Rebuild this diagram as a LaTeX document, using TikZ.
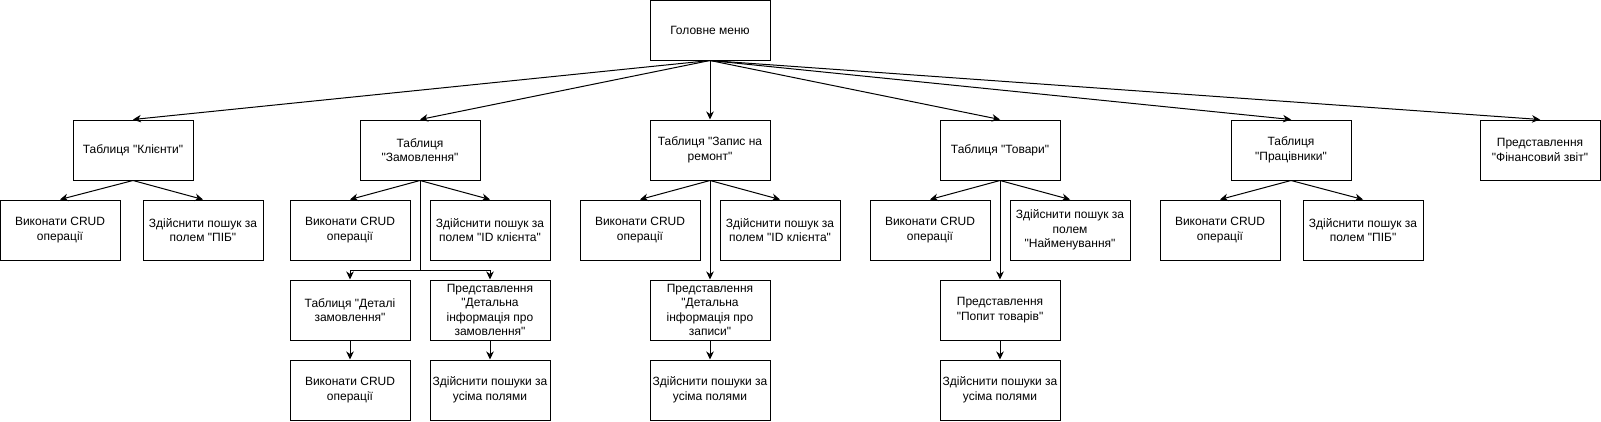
\documentclass[tikz,border=0pt]{standalone}
\usepackage{fontspec}
\setmainfont{Liberation Sans}[Ligatures=TeXOff]
\usetikzlibrary{arrows.meta}
\begin{document}
\begin{tikzpicture}[x=1pt,y=-1pt,
  box/.style={draw=black, line width=1pt, minimum width=120pt, minimum height=60pt,
    inner sep=1pt, align=center, font=\fontsize{12}{14.5}\selectfont},
  arr/.style={draw=black, line width=1pt, -{Stealth[length=8pt,width=7.5pt,inset=2.5pt]}},
  ln/.style={draw=black, line width=1pt}]
\useasboundingbox (0,0) rectangle (1601,421);
% root
\node[box] (root) at (710,30) {Головне меню};
% row 1
\node[box] (k) at (133,150) {Таблиця "Клієнти"};
\node[box] (z) at (420,150) {Таблиця\\"Замовлення"};
\node[box] (r) at (710,150) {Таблиця "Запис на\\ремонт"};
\node[box] (t) at (1000,150) {Таблиця "Товари"};
\node[box] (p) at (1291,150) {Таблиця\\"Працівники"};
\node[box] (f) at (1540,150) {Представлення\\"Фінансовий звіт"};
% Клієнти children
\node[box] (k1) at (60,230) {Виконати CRUD\\операції};
\node[box] (k2) at (203,230) {Здійснити пошук за\\полем "ПІБ"};
% Замовлення children
\node[box] (z1) at (350,230) {Виконати CRUD\\операції};
\node[box] (z2) at (490,230) {Здійснити пошук за\\полем "ID клієнта"};
\node[box] (z3) at (350,310) {Таблиця "Деталі\\замовлення"};
\node[box] (z4) at (490,310) {Представлення\\"Детальна\\інформація про\\замовлення"};
\node[box] (z5) at (350,390) {Виконати CRUD\\операції};
\node[box] (z6) at (490,390) {Здійснити пошуки за\\усіма полями};
% Запис children
\node[box] (r1) at (640,230) {Виконати CRUD\\операції};
\node[box] (r2) at (780,230) {Здійснити пошук за\\полем "ID клієнта"};
\node[box] (r3) at (710,310) {Представлення\\"Детальна\\інформація про\\записи"};
\node[box] (r4) at (710,390) {Здійснити пошуки за\\усіма полями};
% Товари children
\node[box] (t1) at (930,230) {Виконати CRUD\\операції};
\node[box] (t2) at (1070,230) {Здійснити пошук за\\полем\\"Найменування"};
\node[box] (t3) at (1000,310) {Представлення\\"Попит товарів"};
\node[box] (t4) at (1000,390) {Здійснити пошуки за\\усіма полями};
% Працівники children
\node[box] (p1) at (1220,230) {Виконати CRUD\\операції};
\node[box] (p2) at (1363,230) {Здійснити пошук за\\полем "ПІБ"};
% root edges
\foreach \n in {k,z,r,t,p,f} \draw[arr] (root.south) -- (\n.north);
% row1 to row2
\draw[arr] (k.south) -- (k1.north);
\draw[arr] (k.south) -- (k2.north);
\draw[arr] (z.south) -- (z1.north);
\draw[arr] (z.south) -- (z2.north);
\draw[arr] (r.south) -- (r1.north);
\draw[arr] (r.south) -- (r2.north);
\draw[arr] (t.south) -- (t1.north);
\draw[arr] (t.south) -- (t2.north);
\draw[arr] (p.south) -- (p1.north);
\draw[arr] (p.south) -- (p2.north);
% Замовлення branch
\coordinate (zb) at (420,270);
\draw[ln] (z.south) -- (zb);
\draw[arr] (zb) -| (z3.north);
\draw[arr] (zb) -| (z4.north);
\draw[arr] (z3.south) -- (z5.north);
\draw[arr] (z4.south) -- (z6.north);
% Запис branch
\draw[arr] (r.south) -- (r3.north);
\draw[arr] (r3.south) -- (r4.north);
% Товари branch
\draw[arr] (t.south) -- (t3.north);
\draw[arr] (t3.south) -- (t4.north);
\end{tikzpicture}
\end{document}
